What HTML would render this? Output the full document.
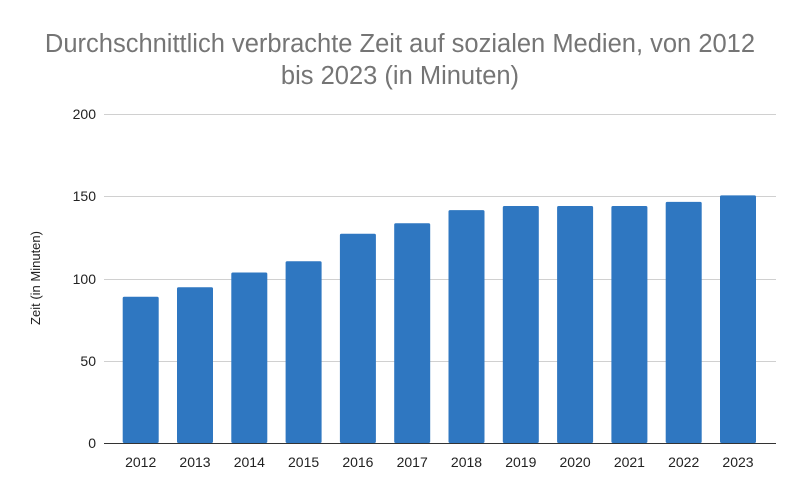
<!DOCTYPE html>
<html><head><meta charset="utf-8"><style>body{margin:0;background:#fff}svg{display:block}</style></head><body>
<svg width="800" height="495" xmlns="http://www.w3.org/2000/svg" font-family="Liberation Sans, Arial, sans-serif">
<rect width="800" height="495" fill="#fff"/>
<text x="400" y="52" text-anchor="middle" font-size="25.5" fill="#757575">Durchschnittlich verbrachte Zeit auf sozialen Medien, von 2012</text>
<text x="400" y="84" text-anchor="middle" font-size="25.5" fill="#757575">bis 2023 (in Minuten)</text>
<g stroke="#d0d0d0" stroke-width="1">
<line x1="104" x2="776" y1="114.5" y2="114.5"/>
<line x1="104" x2="776" y1="196.5" y2="196.5"/>
<line x1="104" x2="776" y1="279.5" y2="279.5"/>
<line x1="104" x2="776" y1="361.5" y2="361.5"/>
</g>
<g font-size="14" fill="#222" text-anchor="end">
<text x="96" y="119">200</text><text x="96" y="201">150</text><text x="96" y="284">100</text><text x="96" y="366">50</text><text x="96" y="448">0</text>
</g>
<text transform="translate(40,278) rotate(-90)" text-anchor="middle" font-size="13" fill="#222">Zeit (in Minuten)</text>
<g fill="#2f77c1" id="bars"></g>
<line x1="104" x2="776" y1="443.5" y2="443.5" stroke="#333" stroke-width="1"/>
<g font-size="14" fill="#222" text-anchor="middle" id="labels"></g>
<script>
var v=[89.2,95,104,110.8,127.6,134,142,144.5,144.5,144.5,147,151];
var b=document.getElementById('bars'),l=document.getElementById('labels'),ns='http://www.w3.org/2000/svg';
for(var i=0;i<12;i++){var x=122.7+i*54.3,h=v[i]*1.64;
var r=document.createElementNS(ns,'rect');r.setAttribute('x',x);r.setAttribute('y',443-h);r.setAttribute('width',36);r.setAttribute('height',h);r.setAttribute('rx',1.5);b.appendChild(r);
var t=document.createElementNS(ns,'text');t.setAttribute('x',x+18);t.setAttribute('y',467);t.textContent=2012+i;l.appendChild(t);}
</script>
</svg>
</body></html>
